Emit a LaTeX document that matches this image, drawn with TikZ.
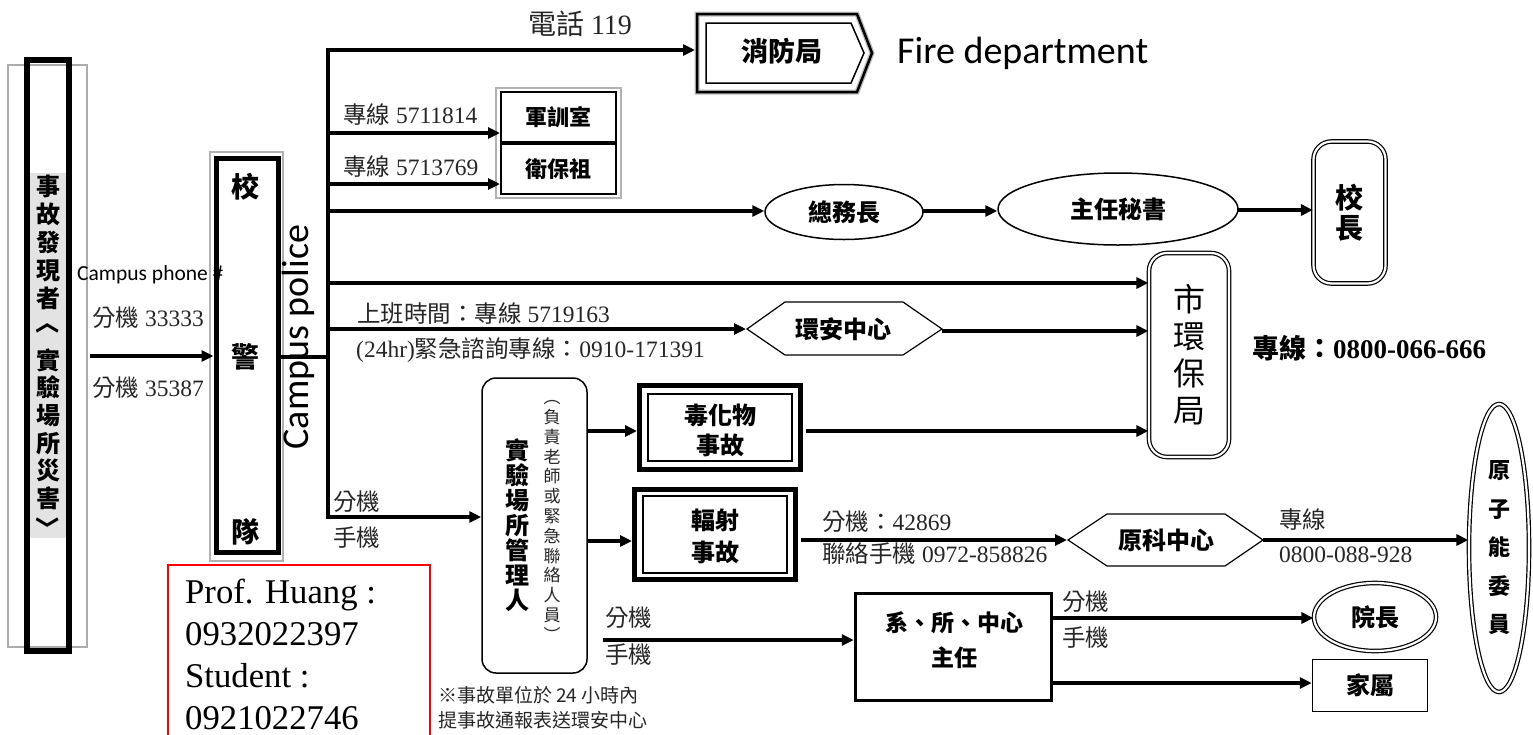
\documentclass[tikz,border=0pt]{standalone}
\usepackage{fontspec}
\setmainfont{Liberation Serif}
\newfontfamily\cjk{Noto Sans CJK TC}
\newfontfamily\cali{Carlito}
\usetikzlibrary{arrows.meta,shapes.geometric}
\newcommand{\myfs}[1]{\fontsize{#1}{#1}\selectfont}
\newcommand{\zh}[1]{{\cjk #1}}
\newcommand{\zhb}[1]{{\cjk\bfseries #1}}
\begin{document}
\begin{tikzpicture}[x=1pt,y=-1pt,
  >={Triangle[length=12pt,width=11pt]},
  arr/.style={line width=3.5pt,->},
  lab/.style={inner sep=0pt,anchor=west,text=black!85,font=\myfs{23.5}},
  bt/.style={inner sep=0pt,font=\cjk\bfseries\fontsize{#1}{#1}\selectfont},
  dbl/.style={draw,line width=1.2pt,double=white,double distance=2.2pt}]
\useasboundingbox (0,0) rectangle (1533,734);

% ---------- finder (left column)
\draw[gray!65,line width=1.5pt] (8,65) rectangle (87,647);
\fill[gray!22] (30,173) rectangle (66,538);
\node[draw,line width=6pt,minimum width=42pt,minimum height=591pt,inner sep=0pt] (finder) at (48,355.5) {};
\node[inner sep=0pt,align=center,font=\cjk\bfseries\fontsize{24}{27.9}\selectfont] (findert1) at (48,242.5) {事\\故\\發\\現\\者};
\node[inner sep=0pt,rotate=-90,font=\cjk\bfseries\myfs{24}] (brk1) at (48,322) {〈};
\node[inner sep=0pt,align=center,font=\cjk\bfseries\fontsize{24}{27.6}\selectfont] (findert2) at (48,429) {實\\驗\\場\\所\\災\\害};
\node[inner sep=0pt,rotate=-90,font=\cjk\bfseries\myfs{24}] (brk2) at (48,528) {〉};
\node[anchor=base west,inner sep=0pt,font=\cali\myfs{21.5}] (cph) at (77,280) {Campus phone \#};
\node[lab] (ext1) at (92,318) {\zh{分機} 33333};
\node[lab] (ext2) at (92,388) {\zh{分機} 35387};
\coordinate (s0) at (90,356);

% ---------- campus police
\draw[gray!60,line width=1.5pt] (210,152) rectangle (283,561);
\node[draw,line width=5pt,minimum width=62pt,minimum height=394pt,inner sep=0pt] (police) at (247,355) {};
\node[bt=28] (p1) at (245,187) {校};
\node[bt=28] (p2) at (245,357) {警};
\node[bt=28] (p3) at (245,532) {隊};
\draw[arr] (s0) -- (s0 -| police.west);

\coordinate (bustop) at (328,50);
\coordinate (busbot) at (328,517);
\coordinate (pj) at (328,357);
\draw[line width=3.5pt] (pj -| police.east) -- (pj);
\node[rotate=90,inner sep=0pt,font=\cali\myfs{38}] (cp) at (298,337) {Campus police};

% ---------- fire department
\draw[gray!55,line width=5pt,line join=miter] (697,14) -- (857,14) -- (872,53) -- (857,92) -- (697,92) -- cycle;
\draw[line width=2.5pt,line join=miter] (697,14) -- (857,14) -- (872,53) -- (857,92) -- (697,92) -- cycle;
\draw[line width=1.5pt,line join=miter] (706,23) -- (851,23) -- (864,53) -- (851,83) -- (706,83) -- cycle;
\node[bt=27] (fire) at (782,51) {消防局};
\coordinate (firew) at (695,50);
\node[anchor=west,inner sep=0pt,font=\cali\myfs{38}] (fd) at (897,53) {Fire department};
\node[inner sep=0pt,text=black!85,font=\myfs{28}] (t119) at (580,24) {\zh{電話} 119};

% bus + top branch + bottom branch
\node[draw,line width=1.5pt,rounded corners=14pt,minimum width=105pt,minimum height=295pt,inner sep=0pt] (mgr) at (534.5,525.5) {};
\draw[line width=4pt,line join=miter,<->] (busbot -| mgr.west) -- (busbot) -- (bustop) -- (firew);

% ---------- military / health
\draw[gray!60,line width=1.5pt] (496,88) rectangle (621,198);
\node[draw,line width=2pt,minimum width=115pt,minimum height=50pt,inner sep=0pt,font=\cjk\bfseries\myfs{22}] (jx) at (558.5,117) {軍訓室};
\node[draw,line width=2pt,minimum width=115pt,minimum height=50pt,inner sep=0pt,font=\cjk\bfseries\myfs{22}] (wb) at (558.5,169) {衛保祖};
\coordinate (b1) at (328,133);
\coordinate (b2) at (328,184);
\draw[arr] (b1) -- (b1 -| jx.west);
\draw[arr] (b2) -- (b2 -| wb.west);
\node[lab] (l1) at (343,115) {\zh{專線} 5711814};
\node[lab] (l2) at (343,167) {\zh{專線} 5713769};

% ---------- general affairs chain
\node[ellipse,draw,line width=1.5pt,minimum width=158pt,minimum height=55pt,inner sep=0pt,font=\cjk\bfseries\myfs{24}] (gm) at (844,212) {總務長};
\node[ellipse,draw,line width=1.5pt,minimum width=240pt,minimum height=72pt,inner sep=0pt,font=\cjk\bfseries\myfs{24}] (cs) at (1118,209) {主任秘書};
\node[dbl,rounded corners=18pt,minimum width=72pt,minimum height=142pt,inner sep=0pt,align=center,font=\cjk\bfseries\fontsize{28}{30}\selectfont] (pres) at (1349.5,212.5) {校\\長};
\coordinate (b3) at (328,211);
\draw[arr] (b3) -- (b3 -| gm.west);
\coordinate (g1) at (923,211);
\draw[arr] (g1) -- (g1 -| cs.west);
\coordinate (g2) at (1238,210);
\draw[arr] (g2) -- (g2 -| pres.west);

% ---------- EPB
\node[dbl,rounded corners=18pt,minimum width=80pt,minimum height=204pt,inner sep=0pt,align=center,font=\cjk\fontsize{32}{37}\selectfont] (epb) at (1189,355) {市\\環\\保\\局};
\node[lab,text=black,font=\bfseries\myfs{27}] (epbtel) at (1252,348) {\zhb{專線：}0800-066-666};
\coordinate (b4) at (328,283);
\draw[arr] (b4) -- (b4 -| epb.west);

% ---------- ESH center
\draw[line width=1.2pt] (747,329) -- (785,302) -- (903,302) -- (942,329) -- (903,355) -- (785,355) -- cycle;
\node[bt=24] (esh) at (843,329) {環安中心};
\coordinate (b5) at (328,329);
\coordinate (eshw) at (746,329);
\coordinate (eshe) at (942,331);
\draw[arr] (b5) -- (eshw);
\draw[arr] (eshe) -- (eshe -| epb.west);
\node[lab] (l3) at (357,314) {\zh{上班時間：專線} 5719163};
\node[lab] (l4) at (356,350) {(24hr)\zh{緊急諮詢專線：}0910-171391};

% ---------- lab manager
\node[lab] (l5) at (333,502) {\zh{分機}};
\node[lab] (l6) at (333,538) {\zh{手機}};
\node[inner sep=0pt,align=center,font=\cjk\bfseries\fontsize{24}{25}\selectfont] (mgrt) at (517,525) {實\\驗\\場\\所\\管\\理\\人};
\node[inner sep=0pt,align=center,text=black!85,font=\cjk\fontsize{17}{19.8}\selectfont] (mgrs) at (552,521) {︵\\負\\責\\老\\師\\或\\緊\\急\\聯\\絡\\人\\員\\︶};

% ---------- toxic / radiation
\node[draw,line width=5pt,minimum width=161pt,minimum height=84pt,inner sep=0pt] (tox) at (720,427.5) {};
\draw[line width=1.3pt] (648,394) rectangle (792,461);
\node[inner sep=0pt,align=center,font=\cjk\bfseries\fontsize{24}{30}\selectfont] (toxt) at (720,430) {毒化物\\事故};
\node[draw,line width=5pt,minimum width=161pt,minimum height=90pt,inner sep=0pt] (rad) at (715,534.5) {};
\draw[line width=1.3pt] (643,496) rectangle (787,573);
\node[inner sep=0pt,align=center,font=\cjk\bfseries\fontsize{24}{32}\selectfont] (radt) at (715,536) {輻射\\事故};
\coordinate (m1) at (587,431);
\coordinate (m2) at (587,541);
\draw[arr] (m1) -- (m1 -| tox.west);
\draw[arr] (m2) -- (m2 -| rad.west);
\coordinate (t1) at (806,431);
\draw[arr] (t1) -- (t1 -| epb.west);

% ---------- nuclear
\draw[line width=1.2pt] (1068,540) -- (1107,514) -- (1225,514) -- (1263,540) -- (1225,566) -- (1107,566) -- cycle;
\node[bt=24] (nuc) at (1166,540) {原科中心};
\coordinate (r1) at (801,540);
\coordinate (nucw) at (1067,540);
\coordinate (nuce) at (1263,540);
\draw[arr] (r1) -- (nucw);
\node[lab] (l7) at (822,522) {\zh{分機：}42869};
\node[lab] (l8) at (822,554) {\zh{聯絡手機} 0972-858826};
\node[dbl,ellipse,minimum width=60pt,minimum height=288pt,inner sep=0pt,align=center,font=\cjk\bfseries\fontsize{22}{38.5}\selectfont] (aec) at (1499,548) {原\\子\\能\\委\\員};
\draw[arr] (nuce) -- (nuce -| aec.west);
\node[lab] (l9) at (1279,520) {\zh{專線}};
\node[lab] (l10) at (1279,555) {0800-088-928};

% ---------- department
\node[draw,line width=3.5pt,minimum width=196pt,minimum height=107pt,inner sep=0pt] (dept) at (953.5,647) {};
\node[inner sep=0pt,align=center,font=\cjk\bfseries\fontsize{23}{35}\selectfont] (deptt) at (954,640) {系、所、中心\\主任};
\coordinate (d0) at (603,640);
\draw[arr] (d0) -- (d0 -| dept.west);
\node[lab] (l11) at (605,618) {\zh{分機}};
\node[lab] (l12) at (605,655) {\zh{手機}};
\node[dbl,ellipse,minimum width=122pt,minimum height=68pt,inner sep=0pt,font=\cjk\bfseries\myfs{24}] (dean) at (1375,617) {院長};
\node[draw,line width=1.5pt,minimum width=115pt,minimum height=52pt,inner sep=0pt,font=\cjk\bfseries\myfs{24}] (fam) at (1370,685.5) {家屬};
\coordinate (d1) at (1053,618);
\coordinate (d2) at (1053,683);
\draw[arr] (d1) -- (d1 -| dean.west);
\draw[arr] (d2) -- (d2 -| fam.west);
\node[lab] (l13) at (1062,602) {\zh{分機}};
\node[lab] (l14) at (1062,638) {\zh{手機}};

% ---------- note
\node[lab,font=\cjk\myfs{19}] (n1) at (438,695) {※事故單位於 24 小時內};
\node[lab,font=\cjk\myfs{19}] (n2) at (438,720) {提事故通報表送環安中心};

% ---------- red contact box
\draw[red,line width=1.5pt] (168,740) -- (168,565) -- (430,565) -- (430,740);
\node[anchor=base west,inner sep=0pt,font=\myfs{34.7}] (c1) at (185,603) {Prof. Huang :};
\node[anchor=base west,inner sep=0pt,font=\myfs{34.7}] (c2) at (185,645) {0932022397};
\node[anchor=base west,inner sep=0pt,font=\myfs{34.7}] (c3) at (185,687) {Student :};
\node[anchor=base west,inner sep=0pt,font=\myfs{34.7}] (c4) at (185,729) {0921022746};
\end{tikzpicture}
\end{document}
